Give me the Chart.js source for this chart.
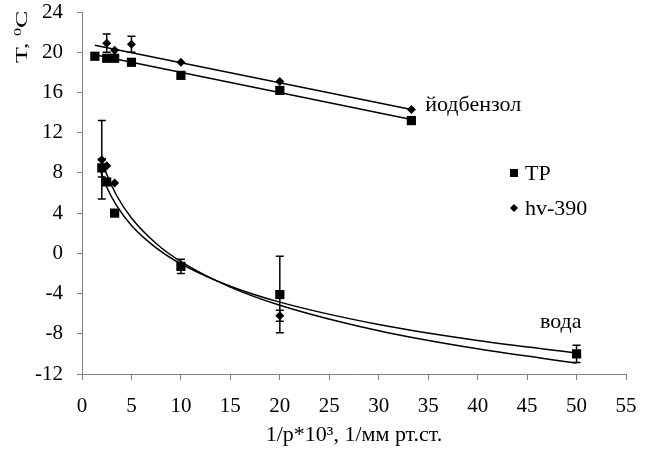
<!DOCTYPE html>
<html>
<head>
<meta charset="utf-8">
<script src="https://cdn.jsdelivr.net/npm/chart.js@4.4.0/dist/chart.umd.min.js"></script>
<style>
html, body { margin: 0; padding: 0; background: #fff; }
#wrap { width: 651px; height: 457px; }
</style>
</head>
<body>
<div id="wrap"><canvas id="chart"></canvas></div>
<script>
// данные: 1/p*10^3 и T, °C
const iodoTpX = [1.3, 2.5, 3.3, 5, 10, 20, 33.3];
const iodoTpY = [19.6, 19.4, 19.4, 19.0, 17.7, 16.2, 13.2];
const iodoHvX = [2.5, 3.3, 5, 10, 20, 33.3];
const iodoHvY = [20.9, 20.2, 20.8, 19.0, 17.1, 14.3];
const iodoHvErr = [0.9, 0, 0.8, 0, 0, 0];

const waterTpX = [2, 2.5, 3.3, 10, 20, 50];
const waterTpY = [8.5, 7.1, 4.0, -1.3, -4.1, -10.0];
const waterTpErr = [0.9, 0, 0, 0.7, 3.8, 0.85];
const waterHvX = [2, 2.5, 3.3, 20];
const waterHvY = [9.3, 8.7, 7.0, -6.2];
const waterHvErr = [3.9, 0, 0, 0.55];

// линии тренда
const iodoTpLineX = [1.3, 33.3];
const iodoTpLineY = [19.75, 13.3];
const iodoHvLineX = [1.3, 33.3];
const iodoHvLineY = [20.7, 14.3];
const waterTpLineX = [1.8, 2.5, 3.5, 5, 7.5, 10, 15, 20, 30, 40, 50];
const waterTpLineY = [8.4, 6.6, 4.74, 2.78, 0.55, -1.04, -3.27, -4.85, -7.08, -8.67, -9.9];
const waterHvLineX = [2.05, 2.5, 3.5, 5, 7.5, 10, 15, 20, 30, 40, 50];
const waterHvLineY = [9.1, 7.86, 5.75, 3.52, 0.98, -0.82, -3.36, -5.16, -7.7, -9.5, -10.9];

const xTicks = [0, 5, 10, 15, 20, 25, 30, 35, 40, 45, 50, 55];
const yTicks = [-12, -8, -4, 0, 4, 8, 12, 16, 20, 24];
const seriesNames = ['TP', 'hv-390'];

const FONT = 'Liberation Serif, Times New Roman, serif';

function pts(xs, ys) {
    return xs.map((x, i) => ({ x: x, y: ys[i] }));
}

function markers(label, xs, ys, errs, style, radius) {
    return {
        label: label,
        data: pts(xs, ys),
        errors: errs,
        showLine: false,
        pointStyle: style,
        pointRadius: radius,
        pointHoverRadius: radius,
        pointBackgroundColor: '#000',
        pointBorderColor: '#000',
        pointBorderWidth: 0
    };
}

function trend(xs, ys) {
    return {
        label: '',
        data: pts(xs, ys),
        showLine: true,
        borderColor: '#000',
        borderWidth: 1.5,
        pointRadius: 0,
        cubicInterpolationMode: 'monotone'
    };
}

// усы погрешностей
const errorBars = {
    id: 'errorBars',
    afterDatasetsDraw(chart) {
        const ctx = chart.ctx;
        const xs = chart.scales.x, ys = chart.scales.y;
        ctx.save();
        ctx.strokeStyle = '#000';
        ctx.lineWidth = 1.5;
        chart.data.datasets.forEach(ds => {
            if (!ds.errors) return;
            ds.data.forEach((p, i) => {
                const e = ds.errors[i];
                if (!e) return;
                const px = xs.getPixelForValue(p.x);
                const y1 = ys.getPixelForValue(p.y + e);
                const y2 = ys.getPixelForValue(p.y - e);
                ctx.beginPath();
                ctx.moveTo(px, y1); ctx.lineTo(px, y2);
                ctx.moveTo(px - 4, y1); ctx.lineTo(px + 4, y1);
                ctx.moveTo(px - 4, y2); ctx.lineTo(px + 4, y2);
                ctx.stroke();
            });
        });
        ctx.restore();
    }
};

// подписи, легенда, заголовок оси Y
const labels = {
    id: 'labels',
    afterDraw(chart) {
        const ctx = chart.ctx;
        const xs = chart.scales.x, ys = chart.scales.y;
        ctx.save();
        ctx.fillStyle = '#000';
        ctx.font = '22px ' + FONT;
        ctx.textBaseline = 'middle';
        ctx.textAlign = 'left';
        ctx.fillText('йодбензол', xs.getPixelForValue(34.7), ys.getPixelForValue(14.7));
        ctx.fillText('вода', xs.getPixelForValue(46.3), ys.getPixelForValue(-6.9));

        const lx = 514, ly = [173, 208];
        [0, 1].forEach(k => {
            const ds = chart.data.datasets[k];
            Chart.helpers.drawPoint(ctx, {
                pointStyle: ds.pointStyle,
                radius: ds.pointRadius * 0.85,
                borderWidth: 0
            }, lx, ly[k]);
            ctx.fill();
            ctx.fillText(seriesNames[k], lx + 11, ly[k] + 1);
        });
        ctx.restore();

        // T, 0C — повернутый заголовок
        ctx.save();
        ctx.fillStyle = '#000';
        ctx.translate(27, 63);
        ctx.rotate(-Math.PI / 2);
        ctx.scale(1, 0.62);
        ctx.textBaseline = 'alphabetic';
        ctx.textAlign = 'left';
        ctx.font = '26px ' + FONT;
        const a = 'T, ';
        ctx.fillText(a, 0, 0);
        let w = ctx.measureText(a).width;
        ctx.font = '16px ' + FONT;
        ctx.fillText('0', w, -10);
        w += ctx.measureText('0').width;
        ctx.font = '26px ' + FONT;
        ctx.fillText('C', w, 0);
        ctx.restore();
    }
};

new Chart(document.getElementById('chart'), {
    type: 'scatter',
    data: {
        datasets: [
            markers(seriesNames[0], iodoTpX, iodoTpY, null, 'rect', 6.5),
            markers(seriesNames[1], iodoHvX, iodoHvY, iodoHvErr, 'rectRot', 4.5),
            markers(seriesNames[0], waterTpX, waterTpY, waterTpErr, 'rect', 6.5),
            markers(seriesNames[1], waterHvX, waterHvY, waterHvErr, 'rectRot', 4.5),
            trend(iodoTpLineX, iodoTpLineY),
            trend(iodoHvLineX, iodoHvLineY),
            trend(waterTpLineX, waterTpLineY),
            trend(waterHvLineX, waterHvLineY)
        ]
    },
    options: {
        responsive: true,
        maintainAspectRatio: false,
        animation: false,
        events: [],
        layout: { padding: { top: 12, right: 25, left: 0, bottom: 0 } },
        plugins: {
            legend: { display: false },
            tooltip: { enabled: false }
        },
        scales: {
            x: {
                type: 'linear',
                min: 0,
                max: 55,
                afterBuildTicks: s => { s.ticks = xTicks.map(v => ({ value: v })); },
                afterFit: s => { s.height = 83; s.paddingLeft = 0; s.paddingRight = 0; },
                border: { color: '#808080', width: 1 },
                grid: { drawOnChartArea: false, drawTicks: true, tickLength: 6, color: '#808080' },
                ticks: { color: '#000', font: { family: FONT, size: 21 }, padding: 14, maxRotation: 0 },
                title: {
                    display: true,
                    text: '1/p*10³, 1/мм рт.ст.',
                    color: '#000',
                    font: { family: FONT, size: 22 },
                    padding: { top: 0, bottom: 9 }
                }
            },
            y: {
                type: 'linear',
                min: -12,
                max: 24,
                afterBuildTicks: s => { s.ticks = yTicks.map(v => ({ value: v })); },
                afterFit: s => { s.width = 82; s.paddingTop = 0; s.paddingBottom = 0; },
                border: { color: '#808080', width: 1 },
                grid: { drawOnChartArea: false, drawTicks: true, tickLength: 5, color: '#808080' },
                ticks: { color: '#000', font: { family: FONT, size: 21 }, padding: 14 }
            }
        }
    },
    plugins: [errorBars, labels]
});
</script>
</body>
</html>
